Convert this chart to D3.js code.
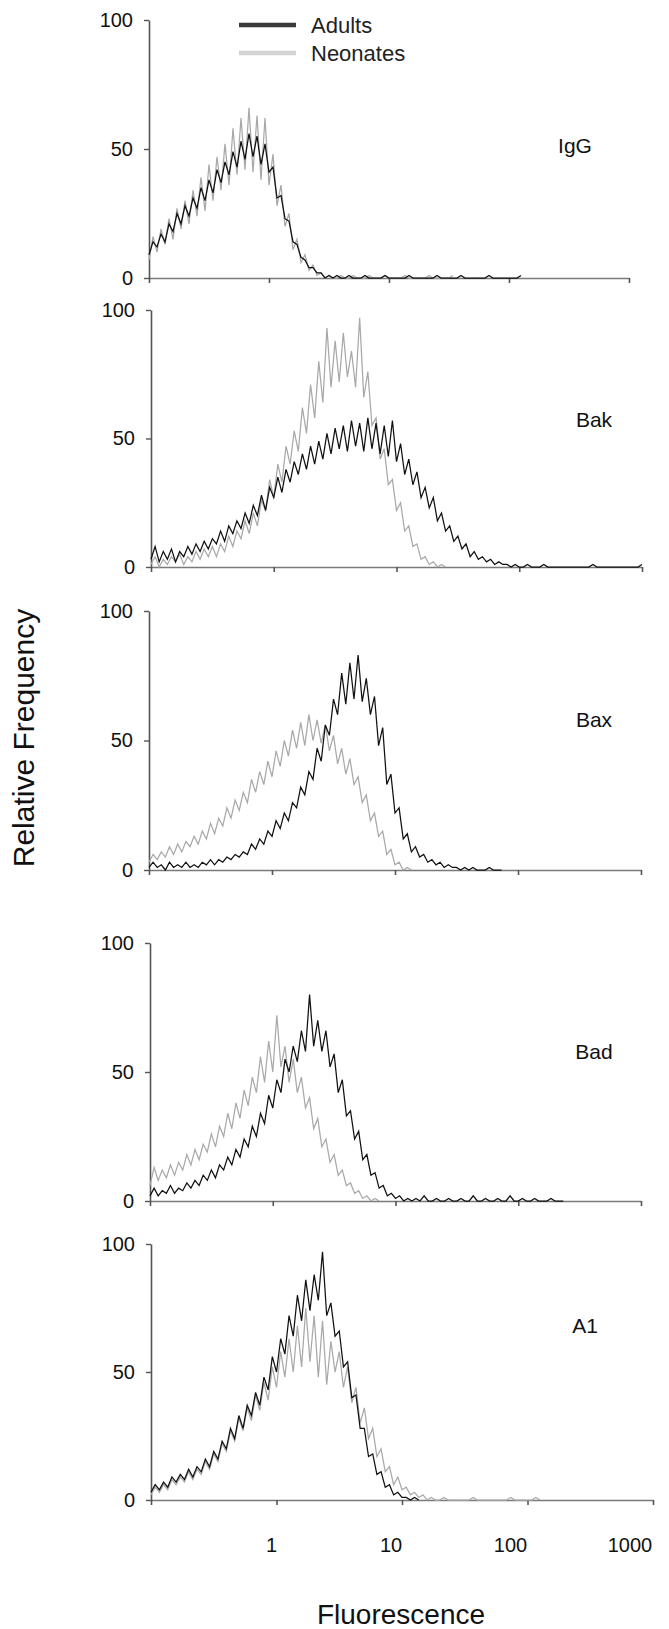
<!DOCTYPE html>
<html>
<head>
<meta charset="utf-8">
<script src="https://cdn.jsdelivr.net/npm/d3@7"></script>
<style>
  body { margin: 0; background: #fff; }
  svg { display: block; font-family: "Liberation Sans", Arial, sans-serif; }
</style>
</head>
<body>
<script>
// histogram channels: 30 per decade, starting at 0.1
const channelsPerDecade = 30;
const xMin = 0.1;
const xMax = 1000;
const xTicks = [0.1, 1, 10, 100, 1000];
const xTickLabels = [1, 10, 100, 1000];
const yTicks = [0, 50, 100];
const panelNames = ["IgG", "Bak", "Bax", "Bad", "A1"];
const seriesNames = ["Adults", "Neonates"];

const igAdults = [9,14,12,17,14,21,18,25,21,28,24,31,27,35,30,38,33,42,37,45,40,49,43,53,46,56,47,55,44,52,41,43,31,32,23,22,14,13,8,7,4,4,2,2,0,1,
  0,1,0,0,1,0,0,0,1,0,0,0,0,1,0,0,0,0,0,1,0,0,0,0,0,0,1,0,0,0,0,0,1,0,0,0,0,0,0,1,0,0,0,0,0,0,0,1];
const igNeonates = [7,16,10,19,13,23,15,27,19,30,21,34,24,39,26,44,30,47,34,52,36,58,40,62,42,66,41,63,38,62,36,48,28,36,20,25,11,15,6,9,3,5,1,2,0,1,
  0,0,1,0,0,1,0,0,0,1,0,0,0,1,0,0,0,0,1,0,0,0,0,0,1,0,0,0,0,0,1];

const bakAdults = [3,8,2,6,3,7,2,6,4,8,5,9,6,10,7,11,9,14,10,16,13,18,15,21,17,24,20,28,22,31,27,35,29,38,33,41,36,44,38,47,40,49,42,52,44,54,46,55,45,57,47,56,45,58,46,56,44,55,43,57,
  41,48,36,42,32,37,27,31,23,27,18,21,14,16,10,12,7,9,4,6,3,4,2,3,1,2,1,1,0,1,0,0,1,0,0,0,1,0,0,0,0,0,0,0,0,0,0,0,1,0,0,0,0,0,0,0,0,0,0,0,1];
const bakNeonates = [1,4,0,3,1,4,2,5,1,4,2,6,3,7,4,8,4,9,6,12,8,14,11,18,13,21,16,26,22,34,27,40,33,47,40,53,45,62,52,71,58,80,64,93,70,88,72,91,74,84,70,97,66,76,55,58,42,46,32,34,
  22,25,14,16,8,9,3,4,1,2,0,1,0];

const baxAdults = [1,3,1,2,0,3,1,2,1,3,1,2,1,3,2,4,2,4,3,5,4,6,5,7,6,10,8,12,10,15,13,19,16,22,19,26,24,32,29,38,35,47,42,56,52,66,60,76,64,80,66,83,65,74,60,67,48,55,33,37,
  22,24,12,14,7,9,5,6,3,4,2,3,1,2,1,1,0,1,0,1,0,0,0,1,0,0,0];
const baxNeonates = [3,6,4,7,5,9,6,10,7,11,9,13,10,15,12,18,14,20,17,24,20,27,23,30,26,35,30,38,33,42,36,46,40,50,44,54,47,57,48,60,50,58,49,56,46,52,41,47,37,43,33,36,26,29,19,22,13,15,6,8,
  2,3,0,1,0];

const badAdults = [2,5,2,4,3,6,3,5,4,7,5,8,6,10,8,12,9,14,12,17,14,20,17,24,21,29,25,34,30,41,36,47,42,55,50,60,54,66,58,80,60,70,58,66,52,57,42,47,33,35,24,27,16,18,10,11,5,6,2,3,
  1,2,0,1,0,1,0,2,0,0,1,0,0,1,0,0,1,0,0,2,0,0,1,0,0,1,0,0,2,0,0,1,0,0,1,0,0,0,1,0,0,0];
const badNeonates = [6,13,8,12,9,14,10,15,12,18,14,20,16,22,19,26,21,29,25,34,28,38,32,43,37,48,42,56,46,62,50,72,52,60,46,55,42,48,36,40,28,32,21,24,15,18,10,12,6,7,3,4,1,2,0,1,0];

const a1Adults = [3,6,4,7,5,9,7,10,8,12,9,13,11,16,13,19,16,23,20,28,24,33,28,37,33,42,37,48,43,56,50,63,57,72,64,80,70,86,74,88,78,97,72,77,64,66,52,54,40,41,28,28,17,18,10,11,5,6,2,3,
  1,1,0,1,0];
const a1Neonates = [2,5,3,6,4,8,6,9,7,11,8,12,10,15,12,18,15,22,19,27,23,32,27,36,31,41,35,46,39,52,44,58,48,63,50,68,52,75,54,72,48,70,45,62,50,58,44,52,38,44,30,36,24,28,17,20,11,13,6,9,
  4,5,2,3,1,2,0,1,0,0,1,0,0,0,0,0,0,1,0,0,0,0,0,0,0,0,1,0,0,0,0,0,1,0];

const adults = [igAdults, bakAdults, baxAdults, badAdults, a1Adults];
const neonates = [igNeonates, bakNeonates, baxNeonates, badNeonates, a1Neonates];

// page layout (pixels)
const width = 669, height = 1629;
const panels = [
  {left: 149, right: 629, top: 20,   bottom: 278,  labelX: 575, labelY: 146},
  {left: 151, right: 642, top: 310,  bottom: 567,  labelX: 594, labelY: 420},
  {left: 149, right: 641, top: 611,  bottom: 870,  labelX: 594, labelY: 720},
  {left: 150, right: 641, top: 943,  bottom: 1201, labelX: 594, labelY: 1052},
  {left: 151, right: 653, top: 1244, bottom: 1500, labelX: 585, labelY: 1326}
];
const adultColor = "#111";
const neonateColor = "#a9a9a9";
const axisColor = "#7a7a7a";

function channelValue(k) {
  return xMin * Math.pow(10, k / channelsPerDecade);
}

const svg = d3.select("body").append("svg")
  .attr("width", width)
  .attr("height", height);

panels.forEach((p, i) => {
  const x = d3.scaleLog().domain([xMin, xMax]).range([p.left, p.right]);
  const y = d3.scaleLinear().domain([0, 100]).range([p.bottom, p.top]);
  const g = svg.append("g");

  const xAxis = g.append("g")
    .attr("transform", `translate(0,${p.bottom})`)
    .call(d3.axisBottom(x).tickValues(xTicks).tickSize(5).tickSizeOuter(0).tickFormat(""));
  xAxis.select(".domain").attr("stroke", axisColor).attr("stroke-width", 1.6);
  xAxis.selectAll(".tick line").attr("stroke", "#555").attr("stroke-width", 1.6);

  const yAxis = g.append("g")
    .attr("transform", `translate(${p.left},0)`)
    .call(d3.axisLeft(y).tickValues(yTicks).tickSize(5).tickSizeOuter(0).tickPadding(11));
  yAxis.select(".domain").attr("stroke", "#555").attr("stroke-width", 1.6);
  yAxis.selectAll(".tick line").attr("stroke", "#555").attr("stroke-width", 1.4);
  yAxis.selectAll(".tick text")
    .attr("fill", "#111")
    .style("font-size", "20px")
    .style("font-family", "'Liberation Sans', Arial, sans-serif");

  const line = d3.line()
    .x((d, k) => x(channelValue(k)))
    .y(d => y(d));

  g.append("path")
    .datum(neonates[i])
    .attr("d", line)
    .attr("fill", "none")
    .attr("stroke", neonateColor)
    .attr("stroke-width", 1.25);

  g.append("path")
    .datum(adults[i])
    .attr("d", line)
    .attr("fill", "none")
    .attr("stroke", adultColor)
    .attr("stroke-width", 1.25);

  g.append("text")
    .attr("x", p.labelX)
    .attr("y", p.labelY)
    .attr("dy", "0.35em")
    .style("text-anchor", "middle")
    .style("font-size", "21px")
    .attr("fill", "#111")
    .text(panelNames[i]);
});

// tick labels under the last panel sit on a slightly narrower scale
const last = panels[panels.length - 1];
const labelScale = d3.scaleLog().domain([xMin, xMax]).range([152, 630]);
svg.append("g").selectAll("text")
  .data(xTickLabels)
  .join("text")
  .attr("x", d => labelScale(d))
  .attr("y", last.bottom + 52)
  .style("text-anchor", "middle")
  .style("font-size", "20px")
  .attr("fill", "#111")
  .text(d => d);

// legend
const legend = svg.append("g");
seriesNames.forEach((name, i) => {
  const ly = 25 + i * 28;
  legend.append("line")
    .attr("x1", 239).attr("x2", 296)
    .attr("y1", ly).attr("y2", ly)
    .attr("stroke", i === 0 ? "#3a3a3a" : "#d4d4d4")
    .attr("stroke-width", 4.5);
  legend.append("text")
    .attr("x", 311)
    .attr("y", ly + 8)
    .style("font-size", "22px")
    .attr("fill", "#222")
    .text(name);
});

// axis titles
svg.append("text")
  .attr("transform", "translate(34,738) rotate(-90)")
  .style("text-anchor", "middle")
  .style("font-size", "30px")
  .attr("fill", "#111")
  .text("Relative Frequency");

svg.append("text")
  .attr("x", 401)
  .attr("y", 1624)
  .style("text-anchor", "middle")
  .style("font-size", "28px")
  .attr("fill", "#111")
  .text("Fluorescence");
</script>
</body>
</html>
